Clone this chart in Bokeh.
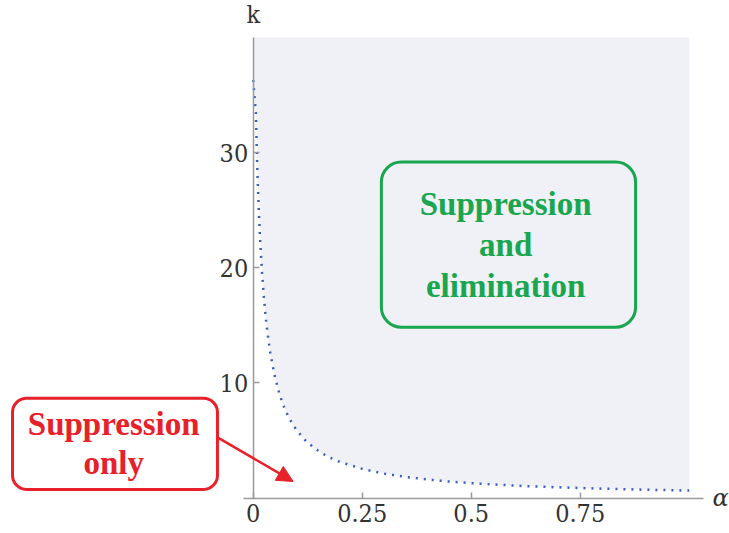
from bokeh.plotting import figure
from bokeh.models import (Range1d, FixedTicker, BoxAnnotation, Label, Arrow,
                          NormalHead, LinearAxis)
from bokeh.embed import file_html
from bokeh.resources import INLINE

# Boundary curve k(alpha)
alpha = [0.0, 0.006, 0.008, 0.01, 0.013, 0.016, 0.02, 0.025, 0.03, 0.035, 0.04,
         0.05, 0.06, 0.07, 0.08, 0.09, 0.1, 0.12, 0.14, 0.16, 0.18, 0.2, 0.25,
         0.3, 0.35, 0.4, 0.45, 0.5, 0.55, 0.6, 0.65, 0.7, 0.75, 0.8, 0.85, 0.9,
         0.95, 1.0]
k = [36.3, 33.5, 30.5, 27.9, 24.8, 22.3, 19.7, 17.2, 15.2, 13.7, 12.4,
     10.5, 9.05, 7.98, 7.13, 6.44, 5.88, 5.0, 4.35, 3.85, 3.45, 3.13, 2.54,
     2.13, 1.84, 1.62, 1.44, 1.30, 1.19, 1.09, 1.01, 0.94, 0.88, 0.82, 0.78, 0.73,
     0.70, 0.66]
k_top = 40

x_ticks = [0, 0.25, 0.5, 0.75]
x_tick_labels = ["0", "0.25", "0.5", "0.75"]
y_ticks = [10, 20, 30]
y_tick_labels = ["10", "20", "30"]

green_lines = ["Suppression", "and", "elimination"]
red_lines = ["Suppression", "only"]

GREEN = "#19a64f"
RED = "#e8202a"
SHADE = "#eff1f7"
BLUE = "#3a5db5"
AXIS = "#9a9a9a"
TXT = "#333333"
TICKFONT = "DejaVu Serif Condensed"

p = figure(width=729, height=533, output_backend="svg", toolbar_location=None,
           x_range=Range1d(-0.5796, 1.0924), y_range=Range1d(-3.07, 43.217),
           x_axis_location=None, y_axis_location=None,
           min_border_left=0, min_border_right=0, min_border_top=0,
           min_border_bottom=0)
p.grid.visible = False
p.outline_line_color = None
p.background_fill_color = "white"
p.border_fill_color = "white"

p.varea(x=alpha, y1=k, y2=k_top, fill_color=SHADE)
p.line(alpha, k, line_color=BLUE, line_width=2.5, line_dash="2 6")

xaxis = LinearAxis(fixed_location=0, bounds=(-0.023, 1.033),
                   ticker=FixedTicker(ticks=x_ticks),
                   major_label_overrides=dict(zip(x_ticks, x_tick_labels)),
                   major_label_standoff=6)
yaxis = LinearAxis(fixed_location=0, bounds=(0, 40),
                   ticker=FixedTicker(ticks=y_ticks),
                   major_label_overrides=dict(zip(y_ticks, y_tick_labels)),
                   major_label_standoff=5)
for ax in (xaxis, yaxis):
    ax.axis_line_color = AXIS
    ax.axis_line_width = 1.5
    ax.major_tick_line_color = AXIS
    ax.major_tick_line_width = 1.5
    ax.major_tick_in = 6
    ax.major_tick_out = 0
    ax.minor_tick_line_color = None
    ax.major_label_text_font = TICKFONT
    ax.major_label_text_font_size = "25px"
    ax.major_label_text_color = TXT
p.add_layout(xaxis, "below")
p.add_layout(yaxis, "left")

# axis names
p.add_layout(Label(x=0, y=42.0, text="k", text_font=TICKFONT,
                   text_font_size="25px", text_color=TXT, text_align="center",
                   text_baseline="alphabetic"))
p.add_layout(Label(x=1.0718, y=0.0, text="α", text_font="DejaVu Serif",
                   text_font_style="italic", text_font_size="24px",
                   text_color=TXT, text_align="center", text_baseline="middle"))

# green box
p.add_layout(BoxAnnotation(left=0.294, right=0.877, top=29.19, bottom=14.84,
                           fill_alpha=0, line_color=GREEN, line_alpha=1,
                           line_width=3, border_radius=20))
for txt, yy in zip(green_lines, [25.55, 22.0, 18.45]):
    p.add_layout(Label(x=0.579, y=yy, text=txt, text_font="Liberation Serif",
                       text_font_style="bold", text_font_size="33px",
                       text_color=GREEN, text_align="center",
                       text_baseline="alphabetic"))

# red box
p.add_layout(BoxAnnotation(left=-0.552, right=-0.082, top=8.67, bottom=0.76,
                           fill_color="white", fill_alpha=1, line_color=RED,
                           line_alpha=1, line_width=3, border_radius=14))
for txt, yy in zip(red_lines, [6.45, 3.05]):
    p.add_layout(Label(x=-0.320, y=yy, text=txt, text_font="Liberation Serif",
                       text_font_style="bold", text_font_size="33px",
                       text_color=RED, text_align="center",
                       text_baseline="alphabetic"))

p.add_layout(Arrow(end=NormalHead(size=16, fill_color=RED, line_color=RED),
                   x_start=-0.082, y_start=5.28, x_end=0.0915, y_end=1.45,
                   line_color=RED, line_width=2.5))

open("out.html", "w").write(file_html(p, INLINE))
